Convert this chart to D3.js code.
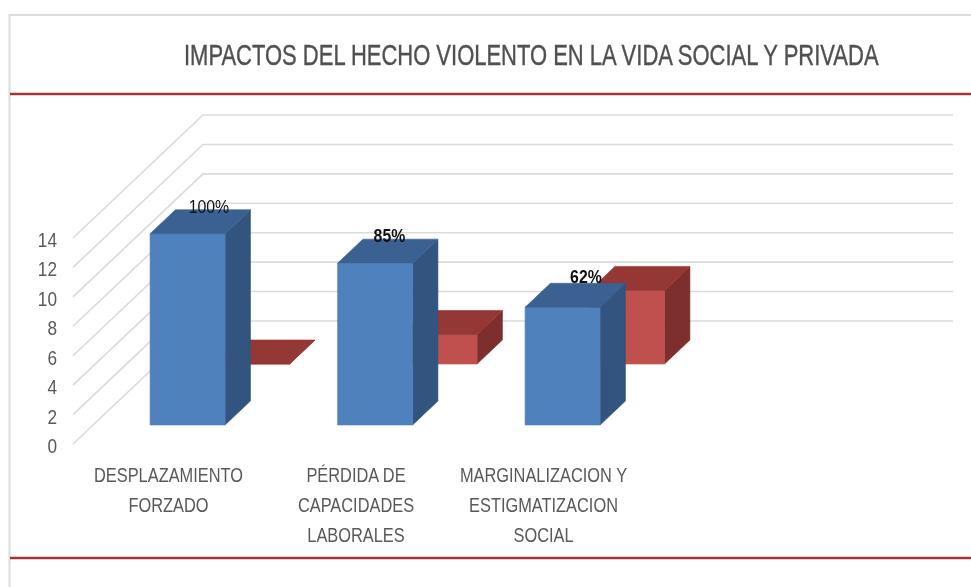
<!DOCTYPE html>
<html lang="es">
<head>
  <meta charset="UTF-8" />
  <title>Impactos del hecho violento</title>
  <script src="https://d3js.org/d3.v7.min.js"></script>
  <style>
    body { margin: 0; background: #fff; }
    svg { display: block; font-family: "Liberation Sans", sans-serif; filter: blur(0.45px); }
  </style>
</head>
<body>
  <svg width="971" height="587"></svg>

  <script>
    const titleText = "IMPACTOS DEL HECHO VIOLENTO EN LA VIDA SOCIAL Y PRIVADA";
    const categories = ["DESPLAZAMIENTO FORZADO", "PÉRDIDA DE CAPACIDADES LABORALES", "MARGINALIZACION Y ESTIGMATIZACION SOCIAL"];
    const categoryLines = [
      ["DESPLAZAMIENTO", "FORZADO"],
      ["PÉRDIDA DE", "CAPACIDADES", "LABORALES"],
      ["MARGINALIZACION Y", "ESTIGMATIZACION", "SOCIAL"]
    ];
    const seriesBlue = [13, 11, 8];
    const seriesRed = [0, 2, 5];
    const percentLabels = ["100%", "85%", "62%"];
    const tickValues = [0, 2, 4, 6, 8, 10, 12, 14];

    const svg = d3.select("svg");

    // scales: y is the front edge of the floor, depth pushes points up and to the right
    const y = d3.scaleLinear().domain([0, 14]).range([444, 238]);
    const x = d3.scaleBand().domain(categories).range([130, 692.5]);
    const barW = 75;
    const depth = d3.scaleLinear().domain([0, 1]).range([0, 123]);
    const skew = 130 / 123;

    // px, py project a (x, value, depth) point on the screen
    const px = (xv, z) => xv + depth(z) * skew;
    const py = (v, z) => y(v) - depth(z);
    const pts = a => a.map(p => p.join(",")).join(" ");

    // fonts here are wider than the narrow face in the picture, squeeze them
    const squeeze = (sel, tx, ty, sx) => sel.attr("transform", `translate(${tx},${ty}) scale(${sx},1)`);

    // frame
    svg.append("path").attr("d", "M9.5,587V15H971").attr("fill", "none").attr("stroke", "#dcdcdc").attr("stroke-width", 2);
    svg.selectAll("line.rule").data([94, 558]).join("line")
      .attr("class", "rule")
      .attr("x1", 10).attr("x2", 971)
      .attr("y1", d => d).attr("y2", d => d)
      .attr("stroke", "#a5353c").attr("stroke-width", 2.5);

    const title = svg.append("text")
      .attr("font-size", 29).attr("fill", "#505050")
      .attr("stroke", "#505050").attr("stroke-width", 0.4)
      .text(titleText);
    squeeze(title, 184, 65, 695 / title.node().getComputedTextLength());

    // wall + side grid
    const endX = 953;
    svg.append("g").selectAll("polyline").data(tickValues).join("polyline")
      .attr("fill", "none").attr("stroke", "#dadada").attr("stroke-width", 1.6)
      .attr("points", d => pts([[73, y(d)], [px(73, 1), py(d, 1)], [endX, py(d, 1)]]));

    svg.append("g").selectAll("text").data(tickValues).join("text")
      .attr("text-anchor", "end").attr("font-size", 21).attr("fill", "#595959")
      .attr("transform", d => `translate(57,${y(d) + 9}) scale(0.82,1)`)
      .text(d => d);

    function drawBars(values, z0, z1, front, top, side) {
      const g = svg.append("g");
      values.forEach((v, i) => {
        const xl = x(categories[i]);
        const xr = xl + barW;
        const a = px(xl, z0), b = px(xr, z0);
        const c = px(xl, z1), e = px(xr, z1);
        g.append("polygon").attr("fill", side).attr("stroke", side).attr("stroke-width", 0.6)
          .attr("points", pts([[b, py(0, z0)], [b, py(v, z0)], [e, py(v, z1)], [e, py(0, z1)]]));
        g.append("polygon").attr("fill", front).attr("stroke", front).attr("stroke-width", 0.6)
          .attr("points", pts([[a, py(0, z0)], [b, py(0, z0)], [b, py(v, z0)], [a, py(v, z0)]]));
        g.append("polygon").attr("fill", top).attr("stroke", top).attr("stroke-width", 0.6)
          .attr("points", pts([[a, py(v, z0)], [b, py(v, z0)], [e, py(v, z1)], [c, py(v, z1)]]));
      });
    }

    // red series sits further back, so it is painted first
    drawBars(seriesRed, 80 / 123, 104 / 123, "#c0504d", "#943735", "#7d2f2d");
    drawBars(seriesBlue, 19 / 123, 43 / 123, "#4f81bd", "#3a6192", "#32547f");

    // data labels above the blue columns, nudged by hand like in the picture
    const labelNudge = [0, -7, 2];
    const labelLift = [0, 0, 3];
    svg.append("g").selectAll("text").data(percentLabels).join("text")
      .attr("text-anchor", "middle").attr("font-size", 18)
      .attr("font-weight", (d, i) => i === 0 ? "normal" : "bold")
      .attr("fill", "#111")
      .attr("transform", (d, i) => {
        const lx = px(x(categories[i]) + barW / 2, 43 / 123) - 4 + labelNudge[i];
        const ly = py(seriesBlue[i], 43 / 123) + 3 - labelLift[i];
        return `translate(${lx},${ly}) scale(0.88,1)`;
      })
      .text(d => d);

    // category labels, one tspan per line
    const catLabel = svg.append("g").selectAll("text").data(categoryLines).join("text")
      .attr("text-anchor", "middle").attr("font-size", 21).attr("fill", "#595959")
      .attr("transform", (d, i) => `translate(${x(categories[i]) + barW / 2 + 1},0) scale(0.78,1)`);
    catLabel.selectAll("tspan").data(d => d).join("tspan")
      .attr("x", 0)
      .attr("y", (d, k) => 482 + k * 30)
      .text(d => d);
  </script>
</body>
</html>
